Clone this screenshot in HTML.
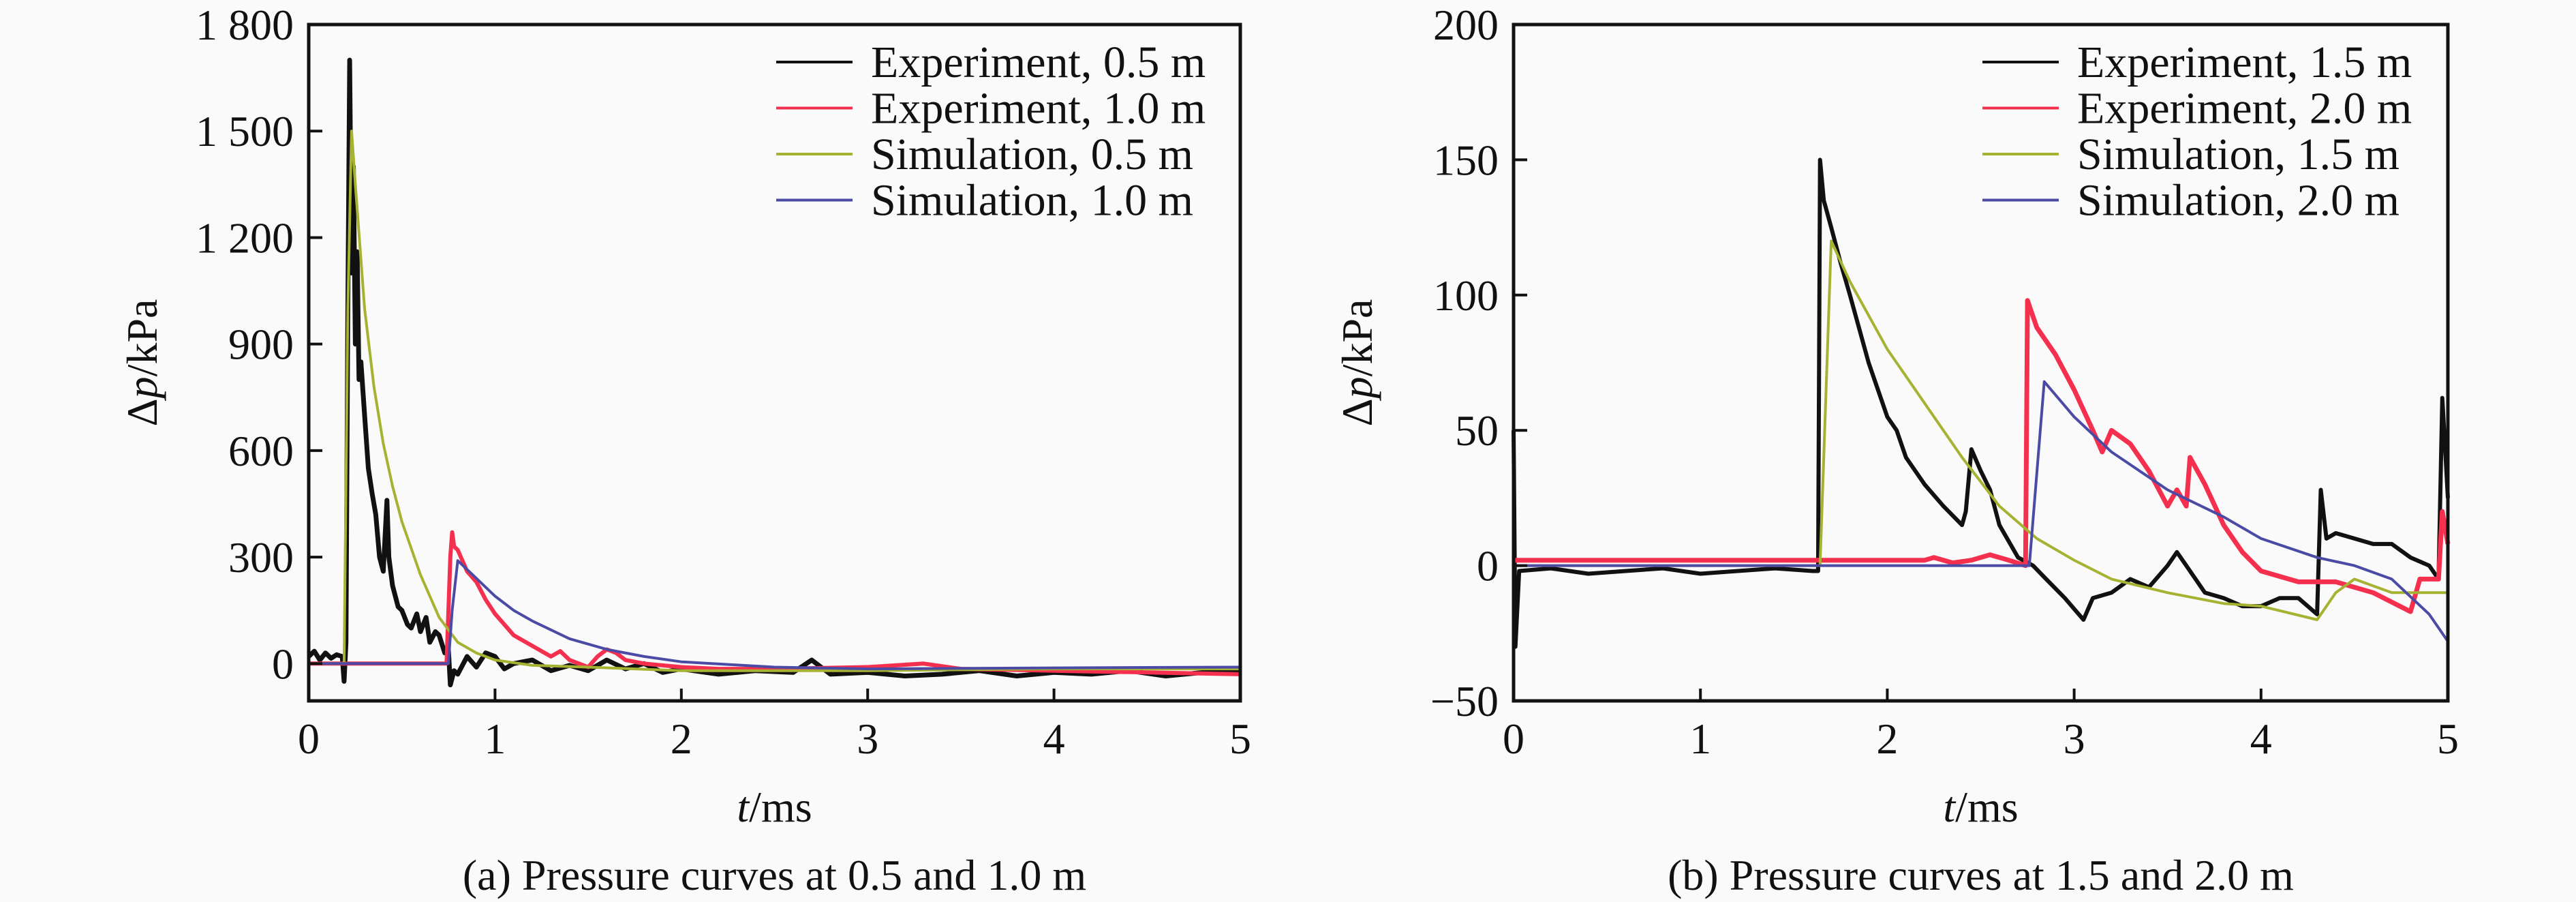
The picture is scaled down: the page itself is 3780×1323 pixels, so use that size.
<!DOCTYPE html>
<html><head><meta charset="utf-8"><style>
html,body{margin:0;padding:0;background:#fafafa;}
svg{display:block;}
svg text{font-family:"Liberation Serif","DejaVu Serif",serif;}
</style></head><body>
<svg id="fig" width="3780" height="1323" viewBox="0 0 3780 1323" xmlns="http://www.w3.org/2000/svg" font-family="Liberation Serif, serif">
<rect width="3780" height="1323" fill="#fafafa"/>
</svg>
<script>
// ---------- Panel (a) data ----------
const aExp05T = [0,0.03,0.06,0.09,0.12,0.15,0.18,0.19,0.2,0.21,0.22,0.23,0.24,0.25,0.26,0.27,0.28,0.3,0.32,0.34,0.36,0.38,0.4,0.42,0.43,0.45,0.48,0.5,0.53,0.55,0.58,0.6,0.63,0.65,0.68,0.7,0.73,0.75,0.76,0.78,0.8,0.85,0.9,0.95,1.0,1.05,1.1,1.2,1.3,1.4,1.5,1.6,1.7,1.8,1.9,2.0,2.2,2.4,2.6,2.7,2.8,3.0,3.2,3.4,3.6,3.8,4.0,4.2,4.4,4.6,4.8,5.0];
const aExp05P = [20,35,10,30,15,25,20,-50,60,1000,1700,1100,1400,900,1160,800,850,700,550,480,420,300,260,460,300,220,160,150,110,100,140,90,130,60,90,80,30,40,-60,-20,-30,20,-10,30,20,-15,0,10,-20,-5,-20,10,-15,0,-25,-15,-30,-20,-25,10,-30,-25,-35,-30,-20,-35,-25,-30,-20,-35,-25,-20];
const aExp10T = [0,0.5,0.74,0.76,0.77,0.78,0.8,0.85,0.9,0.95,1.0,1.05,1.1,1.2,1.3,1.35,1.4,1.5,1.55,1.6,1.65,1.7,1.8,2.0,2.2,2.5,3.0,3.3,3.5,4.0,4.5,5.0];
const aExp10P = [0,0,0,300,370,330,320,260,230,180,140,110,80,50,20,35,10,-10,20,40,30,10,0,-10,-15,-15,-10,0,-15,-20,-25,-30];
const aSim05T = [0,0.19,0.21,0.23,0.25,0.3,0.35,0.4,0.45,0.5,0.6,0.7,0.8,0.9,1.0,1.2,1.5,2.0,2.5,3.0,4.0,5.0];
const aSim05P = [0,0,1000,1500,1350,1000,780,620,500,400,250,130,60,30,10,-5,-10,-20,-20,-20,-15,-15];
const aSim10T = [0,0.75,0.77,0.8,0.9,1.0,1.1,1.2,1.4,1.6,1.8,2.0,2.5,3.0,4.0,5.0];
const aSim10P = [0,0,150,290,240,190,150,120,70,40,20,5,-10,-15,-12,-10];
const aYTicks = [0,300,600,900,1200,1500,1800];
const aYLabels = ["0","300","600","900","1 200","1 500","1 800"];
const xTicks = [0,1,2,3,4,5];
// ---------- Panel (b) data ----------
const bExp15T = [0,0.01,0.03,0.2,0.4,0.6,0.8,1.0,1.2,1.4,1.6,1.63,1.64,1.66,1.7,1.75,1.8,1.9,2.0,2.05,2.1,2.2,2.3,2.4,2.42,2.45,2.5,2.55,2.6,2.7,2.78,2.85,2.95,3.05,3.1,3.2,3.3,3.4,3.5,3.55,3.6,3.7,3.8,3.9,4.0,4.1,4.2,4.3,4.32,4.35,4.4,4.5,4.6,4.7,4.8,4.9,4.95,4.97,5.0];
const bExp15P = [50,-30,-2,-1,-3,-2,-1,-3,-2,-1,-2,-2,150,135,125,112,100,75,55,50,40,30,22,15,20,43,35,28,15,3,0,-5,-12,-20,-12,-10,-5,-8,0,5,0,-10,-12,-15,-15,-12,-12,-18,28,10,12,10,8,8,3,0,-5,62,25];
const bExp20T = [0,0.5,1.0,1.5,2.0,2.2,2.25,2.35,2.45,2.55,2.65,2.74,2.75,2.8,2.9,3.0,3.1,3.15,3.2,3.3,3.4,3.5,3.55,3.6,3.62,3.7,3.8,3.9,4.0,4.2,4.4,4.6,4.8,4.85,4.95,4.97,5.0];
const bExp20P = [2,2,2,2,2,2,3,1,2,4,2,0,98,88,78,65,50,42,50,45,35,22,28,22,40,30,15,5,-2,-6,-6,-10,-17,-5,-5,20,8];
const bSim15T = [0,1.64,1.7,1.8,2.0,2.2,2.4,2.6,2.8,3.0,3.2,3.5,3.8,4.0,4.3,4.4,4.5,4.7,5.0];
const bSim15P = [0,0,120,105,80,60,40,22,10,2,-5,-10,-14,-15,-20,-10,-5,-10,-10];
const bSim20T = [0,2.76,2.84,3.0,3.2,3.5,3.8,4.0,4.3,4.5,4.7,4.9,5.0];
const bSim20P = [0,0,68,55,42,28,18,10,3,0,-5,-18,-28];
const bYTicks = [-50,0,50,100,150,200];
const bYLabels = ["\u221250","0","50","100","150","200"];

const NS = "http://www.w3.org/2000/svg";
const FONT = "Liberation Serif, DejaVu Serif, serif";
const svg = document.getElementById('fig');
function mk(tag, attrs, parent){const e=document.createElementNS(NS,tag);for(const k in attrs)e.setAttribute(k,attrs[k]);if(tag==='text')e.setAttribute('font-family',FONT);(parent||svg).appendChild(e);return e;}

function panel(cfg){
  const g = mk('g',{});
  
  
  const {x0,x1,y0,y1,ymin,ymax} = cfg;
  const sx = t => x0 + (t-0)/(5-0)*(x1-x0);
  const sy = p => y1 - (p-ymin)/(ymax-ymin)*(y1-y0);
  cfg.series.forEach(s=>{
    let d='';
    s.t.forEach((t,i)=>{d+=(i?'L':'M')+sx(t).toFixed(1)+' '+sy(s.p[i]).toFixed(1);});
    const path = mk('path',{d:d,fill:'none',stroke:s.color,'stroke-width':s.w,'stroke-linejoin':'round'},g);
    
    
  });
  const frame = mk('rect',{x:x0,y:y0,width:x1-x0,height:y1-y0,fill:'none',stroke:'#111','stroke-width':5},g);
  
  
  xTicks.forEach(t=>{
    const tk = mk('line',{x1:sx(t),x2:sx(t),y1:y1,y2:y1-18,stroke:'#111','stroke-width':4},g);
    
    
    const tl = mk('text',{x:sx(t),y:y1+77,'font-size':64,'text-anchor':'middle',fill:'#111'},g);
    tl.textContent = String(t);
    
    
  });
  cfg.yTicks.forEach((v,i)=>{
    const tk = mk('line',{x1:x0,x2:x0+20,y1:sy(v),y2:sy(v),stroke:'#111','stroke-width':4},g);
    
    
    const tl = mk('text',{x:x0-22,y:sy(v)+22,'font-size':64,'text-anchor':'end',fill:'#111'},g);
    tl.textContent = cfg.yLabels[i];
    
    
  });
  const xt = mk('text',{x:(x0+x1)/2,y:1205,'font-size':64,'text-anchor':'middle',fill:'#111'},g);
  xt.innerHTML = '<tspan font-style="italic">t</tspan>/ms';
  
  
  const yt = mk('text',{x:0,y:0,'font-size':64,'text-anchor':'middle',fill:'#111',transform:`translate(${cfg.ytx},${(y0+y1)/2}) rotate(-90)`},g);
  yt.innerHTML = 'Δ<tspan font-style="italic">p</tspan>/kPa';
  
  
  const cap = mk('text',{x:(x0+x1)/2,y:1305,'font-size':64,'text-anchor':'middle',fill:'#111'},g);
  cap.textContent = cfg.caption;
  
  
  const lg = mk('g',{},g);
  
  
  cfg.series.forEach((s,i)=>{
    const yy = 91 + i*67.5;
    const e = mk('g',{},lg);
    
    
    mk('line',{x1:cfg.lgx,x2:cfg.lgx+112,y1:yy,y2:yy,stroke:s.color,'stroke-width':4},e);
    const tx = mk('text',{x:cfg.lgx+139,y:yy+22,'font-size':66,fill:'#111'},e);
    tx.textContent = s.label;
  });
}

panel({name:'panel-a',x0:453,x1:1820,y0:36,y1:1028,ymin:-105,ymax:1800,yTicks:aYTicks,yLabels:aYLabels,ytx:230,lgx:1139,
  caption:'(a) Pressure curves at 0.5 and 1.0 m',
  series:[
    {id:'line-experiment-0-5m',label:'Experiment, 0.5 m',color:'#111111',w:7,t:aExp05T,p:aExp05P},
    {id:'line-experiment-1-0m',label:'Experiment, 1.0 m',color:'#f5304f',w:6,t:aExp10T,p:aExp10P},
    {id:'line-simulation-0-5m',label:'Simulation, 0.5 m',color:'#a6b232',w:4,t:aSim05T,p:aSim05P},
    {id:'line-simulation-1-0m',label:'Simulation, 1.0 m',color:'#4b4ba6',w:4,t:aSim10T,p:aSim10P}
  ]});
panel({name:'panel-b',x0:2221,x1:3592,y0:36,y1:1028,ymin:-50,ymax:200,yTicks:bYTicks,yLabels:bYLabels,ytx:2013,lgx:2909,
  caption:'(b) Pressure curves at 1.5 and 2.0 m',
  series:[
    {id:'line-experiment-1-5m',label:'Experiment, 1.5 m',color:'#111111',w:6,t:bExp15T,p:bExp15P},
    {id:'line-experiment-2-0m',label:'Experiment, 2.0 m',color:'#f5304f',w:7,t:bExp20T,p:bExp20P},
    {id:'line-simulation-1-5m',label:'Simulation, 1.5 m',color:'#a6b232',w:4,t:bSim15T,p:bSim15P},
    {id:'line-simulation-2-0m',label:'Simulation, 2.0 m',color:'#4b4ba6',w:4,t:bSim20T,p:bSim20P}
  ]});
</script>
</body></html>
